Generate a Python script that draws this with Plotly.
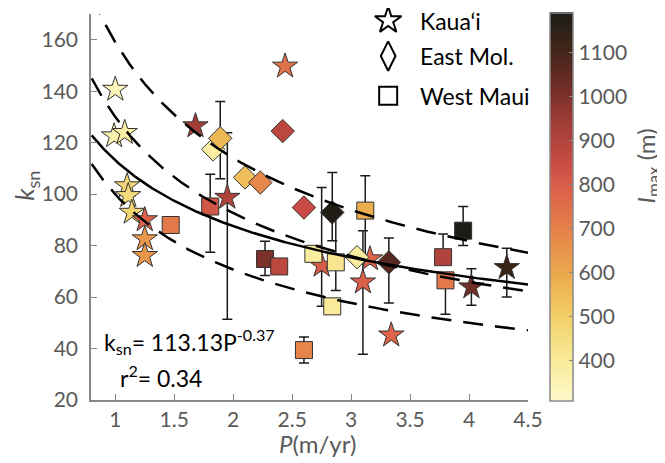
import numpy as np
import plotly.graph_objects as go

# ---------------- data ----------------
# Kaua'i (stars)
kauai_P = [1.00, 0.99, 1.08, 1.10, 1.11, 1.14, 1.25, 1.25, 1.25, 1.68, 1.95, 2.44, 2.75, 3.10, 3.16, 3.34, 4.02, 4.32]
kauai_k = [140.7, 122.6, 123.9, 103.2, 99.4, 92.9, 90.0, 82.6, 76.1, 126.5, 98.7, 149.7, 72.3, 65.8, 74.8, 45.2, 63.9, 71.4]
kauai_I = [340, 360, 380, 470, 460, 480, 780, 640, 640, 930, 900, 740, 800, 790, 780, 780, 1020, 1120]
kauai_ep = [None, None, None, None, None, None, None, None, None, None, 25.2, None, 30.3, 20.0, None, None, 7.1, 7.6]
kauai_em = [None, None, None, None, None, None, None, None, None, None, 47.3, None, 15.9, 28.0, None, None, 7.1, 11.4]

# East Molokai (diamonds)
emol_P = [1.83, 1.89, 2.10, 2.23, 2.42, 2.60, 2.84, 3.05, 3.32]
emol_k = [117.4, 121.7, 106.5, 104.5, 124.5, 94.8, 92.9, 75.5, 73.5]
emol_I = [380, 560, 540, 680, 880, 850, 1180, 390, 1060]
emol_ep = [None, 14.3, None, None, None, None, 15.5, None, 9.5]
emol_em = [None, 15.7, None, None, None, None, 11.0, None, 15.8]

# West Maui (squares)
wmaui_P = [1.47, 1.805, 2.27, 2.39, 2.60, 2.68, 2.87, 2.84, 3.12, 3.78, 3.80, 3.95]
wmaui_k = [88.0, 95.2, 74.8, 71.9, 39.4, 76.8, 73.5, 56.4, 93.6, 75.5, 66.5, 85.8]
wmaui_I = [720, 820, 1000, 880, 690, 390, 420, 400, 580, 900, 720, 1190]
wmaui_ep = [None, 12.5, 6.9, None, 5.1, None, 19.8, None, 13.5, 9.0, None, 9.4]
wmaui_em = [None, 17.8, 6.4, None, 5.0, None, 10.9, None, 20.0, None, 13.2, 5.8]

# power-law fit and bounding curves: k = c * P^e
fit_c, fit_e = 113.13, -0.37
band_c = [159.0, 130.0, 99.9]
band_e = [-0.48, -0.49, -0.50]

x_ticks = [1, 1.5, 2, 2.5, 3, 3.5, 4, 4.5]
x_ticklabels = ["1", "1.5", "2", "2.5", "3", "3.5", "4", "4.5"]
y_ticks = [20, 40, 60, 80, 100, 120, 140, 160]
cb_ticks = [400, 500, 600, 700, 800, 900, 1000, 1100]

legend_names = ["Kaua‘i", "East Mol.", "West Maui"]

# ---------------- figure ----------------
FONT = "Lato"
GRAY = "#5a5a5a"

colorscale = [
    [0.000, "#fdf9c9"],
    [0.102, "#f9eb9a"],
    [0.216, "#f3cf66"],
    [0.330, "#eba64c"],
    [0.443, "#e5804a"],
    [0.534, "#dd634a"],
    [0.614, "#c94c44"],
    [0.727, "#9a3a34"],
    [0.841, "#5e2a22"],
    [0.920, "#3a2418"],
    [1.000, "#1c1c16"],
]

fig = go.Figure()

groups = [
    (kauai_P, kauai_k, kauai_I, kauai_ep, kauai_em, "star", 19),
    (emol_P, emol_k, emol_I, emol_ep, emol_em, "diamond", 18),
    (wmaui_P, wmaui_k, wmaui_I, wmaui_ep, wmaui_em, "square", 17),
]

# error bars first (behind markers)
for P, k, I, ep, em, sym, sz in groups:
    idx = [i for i in range(len(P)) if ep[i] is not None or em[i] is not None]
    fig.add_trace(go.Scatter(
        x=[P[i] for i in idx], y=[k[i] for i in idx], mode="markers",
        marker=dict(size=1, opacity=0),
        error_y=dict(type="data", symmetric=False,
                     array=[ep[i] or 0 for i in idx],
                     arrayminus=[em[i] or 0 for i in idx],
                     color="#1a1a1a", thickness=1.5, width=5),
        showlegend=False, hoverinfo="skip"))

for P, k, I, ep, em, sym, sz in groups:
    fig.add_trace(go.Scatter(
        x=P, y=k, mode="markers",
        marker=dict(symbol=sym, size=sz, color=I, coloraxis="coloraxis",
                    line=dict(color="#333333", width=1)),
        showlegend=False))

Pg = np.linspace(0.8, 4.5, 300)
for c, e in zip(band_c, band_e):
    fig.add_trace(go.Scatter(x=Pg, y=c * Pg ** e, mode="lines",
                             line=dict(color="black", width=2.5, dash="20px,12px"),
                             showlegend=False, hoverinfo="skip"))
fig.add_trace(go.Scatter(x=Pg, y=fit_c * Pg ** fit_e, mode="lines",
                         line=dict(color="black", width=2.5),
                         showlegend=False, hoverinfo="skip"))

# manual legend on an overlay axis (paper-like coordinates)
leg_x = 0.680
leg_y = [0.983, 0.891, 0.788]
leg_sym = ["star-open", "diamond-tall-open", "square-open"]
leg_size = [20, 21, 18]
for yy, s, sz in zip(leg_y, leg_sym, leg_size):
    fig.add_trace(go.Scatter(x=[leg_x], y=[yy], xaxis="x2", yaxis="y2", mode="markers",
                             marker=dict(symbol=s, size=sz, color="black",
                                         line=dict(color="black", width=2)),
                             cliponaxis=False, showlegend=False, hoverinfo="skip"))
for yy, name in zip(leg_y, legend_names):
    fig.add_annotation(x=0.748, y=yy, xref="paper", yref="paper", text=name,
                       showarrow=False, xanchor="left", yanchor="middle",
                       font=dict(family=FONT, size=23, color="black"))

fig.add_annotation(x=0.026, y=0.152, xref="paper", yref="paper",
                   text="k<sub>sn</sub>= 113.13P<sup>-0.37</sup>", showarrow=False,
                   xanchor="left", yanchor="middle",
                   font=dict(family=FONT, size=23, color="black"))
fig.add_annotation(x=0.062, y=0.062, xref="paper", yref="paper",
                   text="r<sup>2</sup>= 0.34", showarrow=False,
                   xanchor="left", yanchor="middle",
                   font=dict(family=FONT, size=23, color="black"))

# axis titles as annotations for exact placement
fig.add_annotation(x=0.519, y=-0.112, xref="paper", yref="paper",
                   text="<i>P</i>(m/yr)", showarrow=False,
                   xanchor="center", yanchor="middle",
                   font=dict(family=FONT, size=24, color=GRAY))
fig.add_annotation(x=-0.150, y=0.556, xref="paper", yref="paper",
                   text="<i>k</i><sub>sn</sub>", showarrow=False, textangle=-90,
                   xanchor="center", yanchor="middle",
                   font=dict(family=FONT, size=26, color=GRAY))
fig.add_annotation(x=1.274, y=0.607, xref="paper", yref="paper",
                   text="<i>I</i><sub>max</sub> (m)", showarrow=False, textangle=-90,
                   xanchor="center", yanchor="middle", borderpad=0,
                   font=dict(family=FONT, size=24, color=GRAY))

# page body has an 8px margin: shrink the figure so the plot lands where intended
fig.update_layout(
    width=657, height=455,
    margin=dict(l=83, r=137, t=5, b=63),
    paper_bgcolor="white", plot_bgcolor="white",
    font=dict(family=FONT, color=GRAY),
    coloraxis=dict(
        colorscale=colorscale, cmin=310, cmax=1190,
        colorbar=dict(
            x=1.050, xanchor="left", xpad=0, thickness=23,
            lenmode="pixels", len=388, y=0.5, yanchor="middle", ypad=0,
            outlinecolor="#888888", outlinewidth=1.5,
            tickvals=cb_ticks, ticks="inside", ticklen=4, tickcolor="#888888",
            tickfont=dict(family=FONT, size=21, color=GRAY),
        ),
    ),
    xaxis=dict(range=[0.794, 4.5], tickvals=x_ticks, ticktext=x_ticklabels,
               showgrid=False, zeroline=False, showline=True, linecolor="#888888",
               linewidth=1.5, ticks="inside", ticklen=6, tickcolor="#888888",
               automargin=False,
               tickfont=dict(family=FONT, size=21, color=GRAY)),
    yaxis=dict(range=[20, 170], tickvals=y_ticks,
               showgrid=False, zeroline=False, showline=True, linecolor="#888888",
               linewidth=1.5, ticks="inside", ticklen=6, tickcolor="#888888",
               automargin=False,
               tickfont=dict(family=FONT, size=21, color=GRAY), ticklabelstandoff=7),
    xaxis2=dict(overlaying="x", range=[0, 1], visible=False),
    yaxis2=dict(overlaying="y", range=[0, 1], visible=False),
)

fig.write_html("out.html")
